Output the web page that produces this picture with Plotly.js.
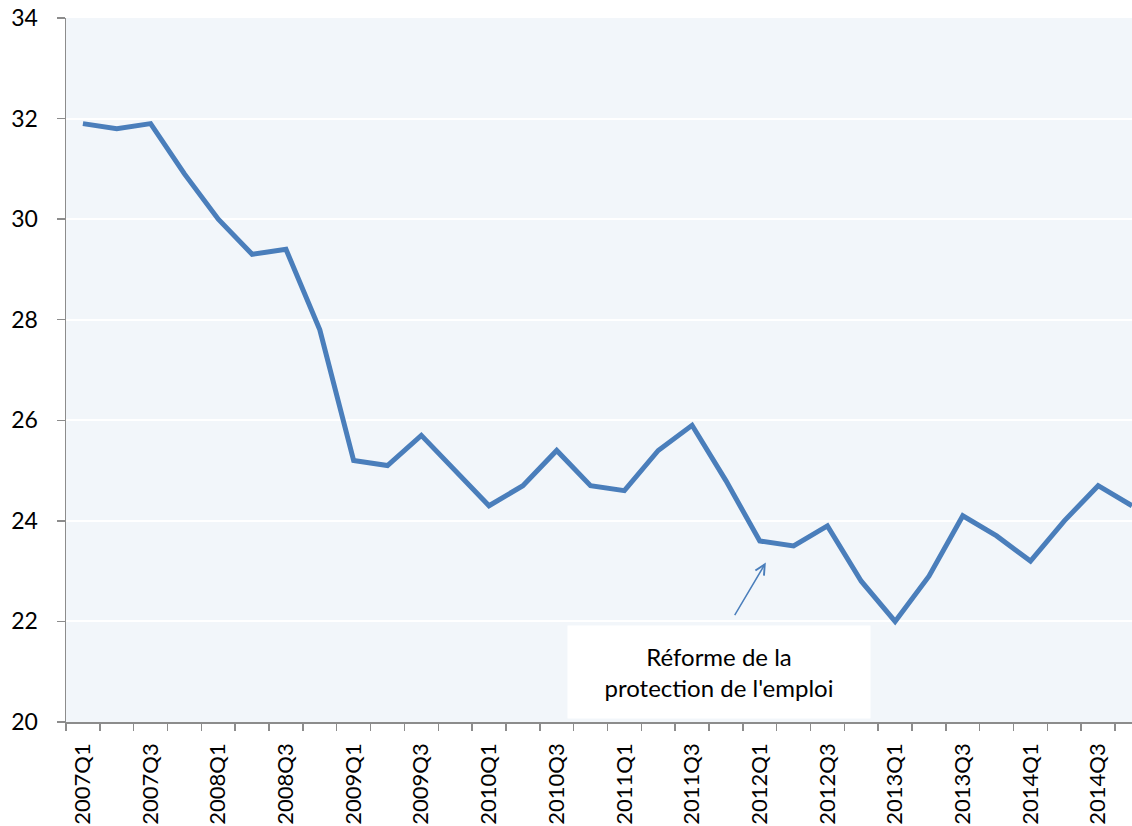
<!DOCTYPE html>
<html>
<head>
<meta charset="utf-8">
<script src="https://cdn.plot.ly/plotly-3.0.1.min.js"></script>
<style>html,body{margin:0;padding:0;background:#fff;}#chart{width:1132px;height:826px;}</style>
</head>
<body>
<div id="chart"></div>
<script>
const quarters = ["2007Q1","2007Q2","2007Q3","2007Q4","2008Q1","2008Q2","2008Q3","2008Q4",
"2009Q1","2009Q2","2009Q3","2009Q4","2010Q1","2010Q2","2010Q3","2010Q4",
"2011Q1","2011Q2","2011Q3","2011Q4","2012Q1","2012Q2","2012Q3","2012Q4",
"2013Q1","2013Q2","2013Q3","2013Q4","2014Q1","2014Q2","2014Q3","2014Q4"];
const values = [31.9,31.8,31.9,30.9,30.0,29.3,29.4,27.8,
25.2,25.1,25.7,25.0,24.3,24.7,25.4,24.7,
24.6,25.4,25.9,24.8,23.6,23.5,23.9,22.8,
22.0,22.9,24.1,23.7,23.2,24.0,24.7,24.3];
const tickLabels = ["2007Q1","2007Q3","2008Q1","2008Q3","2009Q1","2009Q3","2010Q1","2010Q3",
"2011Q1","2011Q3","2012Q1","2012Q3","2013Q1","2013Q3","2014Q1","2014Q3"];
const annotationText = "Réforme de la<br>protection de l'emploi";

const xIdx = quarters.map((q,i)=>i);
const tickIdx = tickLabels.map(t=>quarters.indexOf(t));

const trace = {
  x: xIdx, y: values, type: 'scatter', mode: 'lines',
  line: {color: '#4a7ebb', width: 5},
  hoverinfo: 'skip'
};

const layout = {
  width: 1132, height: 826,
  margin: {l: 66, r: 0, t: 18, b: 104},
  paper_bgcolor: '#ffffff',
  plot_bgcolor: '#f2f6fa',
  showlegend: false,
  font: {family: 'Lato, "Open Sans", sans-serif', color: '#000'},
  xaxis: {
    range: [-0.5, 31], automargin: false,
    tickmode: 'array', tickvals: tickIdx, ticktext: tickLabels,
    tickangle: -90, ticks: '', showgrid: false, zeroline: false,
    showline: true, linecolor: '#8c8c8c', linewidth: 1.5,
    tickfont: {size: 22, family: 'Lato, sans-serif', color: '#000'},
    ticklabelstandoff: 11,
    minor: {tickmode: 'linear', tick0: -0.5, dtick: 1, ticks: 'outside', ticklen: 7,
            tickcolor: '#8c8c8c', tickwidth: 1.5, showgrid: false}
  },
  yaxis: {
    range: [20, 34], dtick: 2, tick0: 20, automargin: false,
    ticks: 'outside', ticklen: 8, tickcolor: '#8c8c8c', tickwidth: 1.5,
    showline: true, linecolor: '#8c8c8c', linewidth: 1.5,
    gridcolor: '#ffffff', gridwidth: 2, zeroline: false,
    tickfont: {size: 23, family: 'Lato, sans-serif', color: '#000'},
    ticklabelstandoff: 14
  },
  annotations: [
    {x: 18.8, y: 21.0, xref: 'x', yref: 'y', text: annotationText, showarrow: false,
     bgcolor: '#ffffff', width: 300, height: 90, align: 'center',
     font: {size: 24, family: 'Lato, sans-serif', color: '#000'}},
    {x: 20.18, y: 23.17, xref: 'x', yref: 'y', text: '', showarrow: true,
     ax: -32, ay: 54, arrowcolor: '#4a7ebb', arrowwidth: 1.5, arrowhead: 5, arrowsize: 1.3}
  ]
};

Plotly.newPlot('chart', [trace], layout, {displayModeBar: false, staticPlot: true});
</script>
</body>
</html>
